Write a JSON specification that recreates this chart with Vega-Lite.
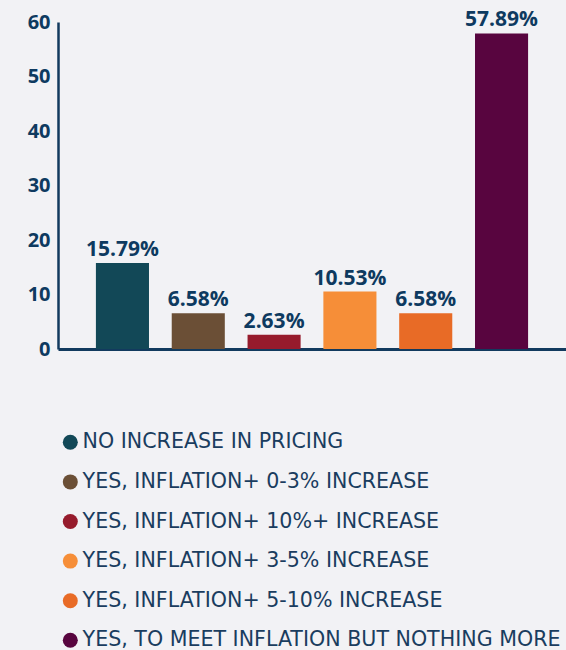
{
  "$schema": "https://vega.github.io/schema/vega-lite/v6.json",
  "width": 508,
  "height": 327,
  "autosize": {"type": "none"},
  "padding": {"left": 58, "top": 22, "right": 0, "bottom": 301},
  "background": "#f2f2f5",
  "config": {
    "view": {"stroke": null},
    "font": "Open Sans"
  },
  "data": {
    "values": [
      {"category": "NO INCREASE IN PRICING", "value": 15.79, "label": "15.79%"},
      {"category": "YES, INFLATION+ 0-3% INCREASE", "value": 6.58, "label": "6.58%"},
      {"category": "YES, INFLATION+ 10%+ INCREASE", "value": 2.63, "label": "2.63%"},
      {"category": "YES, INFLATION+ 3-5% INCREASE", "value": 10.53, "label": "10.53%"},
      {"category": "YES, INFLATION+ 5-10% INCREASE", "value": 6.58, "label": "6.58%"},
      {"category": "YES, TO MEET INFLATION BUT NOTHING MORE", "value": 57.89, "label": "57.89%"}
    ]
  },
  "encoding": {
    "x": {
      "field": "category",
      "type": "nominal",
      "sort": null,
      "scale": {"paddingInner": 0.3, "paddingOuter": 0.5},
      "axis": {"labels": false, "ticks": false, "title": null, "domainColor": "#123a5e", "domainWidth": 3}
    },
    "y": {
      "field": "value",
      "type": "quantitative",
      "scale": {"domain": [0, 60], "nice": false},
      "axis": {
        "values": [0, 10, 20, 30, 40, 50, 60],
        "grid": false,
        "ticks": false,
        "title": null,
        "domainColor": "#123a5e",
        "domainWidth": 2.5,
        "labelFont": "Open Sans",
        "labelFontWeight": "bold",
        "labelFontSize": 20,
        "labelColor": "#0e3a60",
        "labelPadding": 8
      }
    }
  },
  "layer": [
    {
      "mark": {"type": "bar"},
      "encoding": {
        "color": {
          "field": "category",
          "type": "nominal",
          "sort": null,
          "scale": {
            "domain": ["NO INCREASE IN PRICING", "YES, INFLATION+ 0-3% INCREASE", "YES, INFLATION+ 10%+ INCREASE", "YES, INFLATION+ 3-5% INCREASE", "YES, INFLATION+ 5-10% INCREASE", "YES, TO MEET INFLATION BUT NOTHING MORE"],
            "range": ["#124857", "#6b4f36", "#961b2c", "#f68e38", "#e86b26", "#58053f"]
          },
          "legend": {
            "orient": "none",
            "legendX": 2,
            "legendY": 410,
            "direction": "vertical",
            "title": null,
            "padding": 0,
            "symbolType": "circle",
            "symbolSize": 225,
            "symbolStrokeWidth": 0,
            "symbolOpacity": 1,
            "labelFont": "DejaVu Sans",
            "labelFontSize": 20.6,
            "labelColor": "#1a3d5f",
            "labelOffset": 2,
            "labelLimit": 600,
            "rowPadding": 18.6
          }
        }
      }
    },
    {
      "mark": {"type": "text", "baseline": "alphabetic", "dy": -7, "fontWeight": "bold", "fontSize": 21, "font": "Open Sans", "color": "#0e3a60"},
      "encoding": {
        "text": {"field": "label"}
      }
    }
  ]
}
